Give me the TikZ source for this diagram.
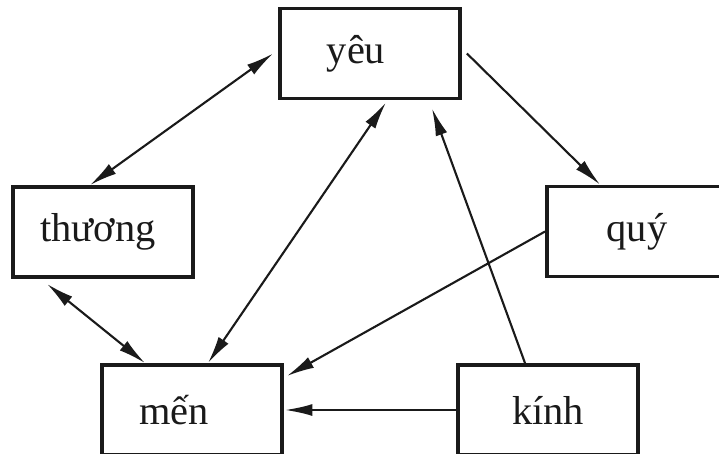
\documentclass[tikz,border=0pt]{standalone}
\usepackage{fontspec}
\setmainfont{Liberation Serif}
\usetikzlibrary{arrows.meta, calc}
\definecolor{ink}{HTML}{1A1A1A}

\begin{document}
\begin{tikzpicture}[x=0.02cm, y=-0.02cm,
        box/.style={draw=ink, text=ink, line width=2.2pt, minimum width=3.6cm, minimum height=1.8cm,
            inner sep=0pt, font=\fontsize{23}{27}\selectfont},
        arr/.style={draw=ink, line width=1.2pt, -{Latex[length=0.55cm, width=0.24cm]}},
        dbl/.style={draw=ink, line width=1.2pt, {Latex[length=0.55cm, width=0.24cm]}-{Latex[length=0.55cm, width=0.24cm]}}]
        \useasboundingbox (0,0) rectangle (719,453);

        % the five words
        \node[box] (yeu) at (370,53.5) {\hspace*{-0.56cm}yêu};
        \node[box] (thuong) at (103,232) {\hspace*{-0.2cm}thương};
        \node[box] (quy) at (637,231.5) {quý};
        \node[box] (men) at (192,410) {\hspace*{-0.72cm}mến};
        \node[box] (kinh) at (548,410) {kính};

        % connectors
        \draw[dbl] ([xshift=-0.26cm]thuong.north) -- ([xshift=-0.1cm]yeu.west);
        \draw[arr] ([xshift=0.1cm]yeu.east) -- ([xshift=-0.74cm]quy.north);
        \draw[dbl] ([xshift=0.32cm]men.north) -- ([xshift=0.32cm,yshift=-0.04cm]yeu.south);
        \draw[arr] ([xshift=-0.46cm]kinh.north) -- ([xshift=1.24cm,yshift=-0.16cm]yeu.south);
        \draw[arr] (quy.west) -- ([xshift=0.06cm,yshift=0.68cm]men.east);
        \draw[arr] (kinh.west) -- ([xshift=0.02cm]men.east);
        \draw[dbl] ([xshift=-1.12cm,yshift=-0.1cm]thuong.south) -- ([xshift=-0.94cm]men.north);
    \end{tikzpicture}
\end{document}
